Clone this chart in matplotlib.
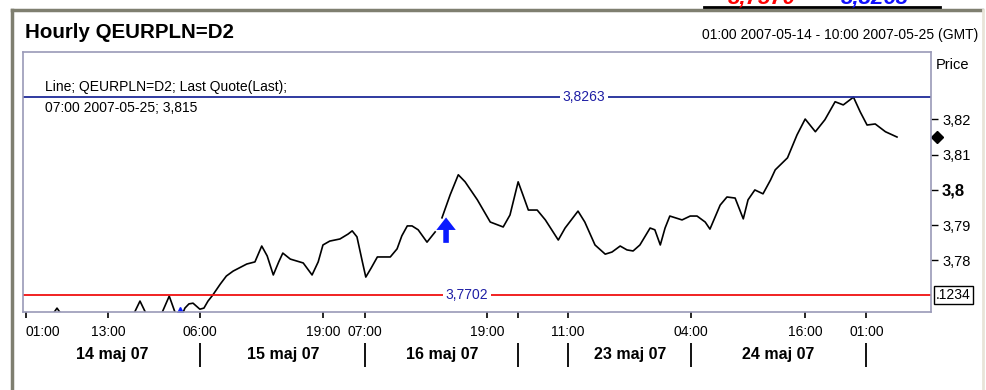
import numpy as np
import matplotlib.pyplot as plt
from matplotlib.transforms import blended_transform_factory

plt.rcParams['font.family'] = ['Liberation Sans', 'DejaVu Sans']

# hourly slots on the compressed time axis (weekend / missing days squeezed out)
slot = [0.0, 4.0, 5.0, 6.0, 11.3, 16.2, 17.2, 18.2, 20.1, 21.5, 22.5, 23.1, 23.8, 24.4,
        25.0, 26.0, 26.6, 27.2, 27.9, 29.0, 29.9, 30.9, 32.9, 34.1, 35.1, 35.9, 36.8,
        37.6, 38.2, 39.3, 41.2, 42.5, 43.4, 44.1, 45.1, 46.6, 47.8, 48.4, 49.1, 49.9,
        50.4, 51.2, 52.1, 54.0, 55.0, 55.7, 56.5, 57.2, 58.1, 59.4, 60.6, 61.1, 61.6,
        62.8, 64.0, 65.0, 66.8, 68.7, 70.6, 71.6, 72.8, 73.5, 74.3, 75.6, 76.8, 78.7,
        79.7, 81.6, 82.6, 84.1, 85.6, 86.6, 87.8, 88.8, 89.7, 90.7, 92.2, 92.9, 93.7,
        94.4, 95.1, 96.9, 98.1, 99.1, 100.3, 101.0, 102.5, 103.5, 104.7, 105.9, 106.6,
        107.6, 108.8, 109.9, 110.6, 112.4, 113.8, 115.0, 116.5, 117.9, 119.4, 120.6,
        122.1, 123.1, 124.1, 125.3, 126.8, 128.5]
price = [3.7631, 3.7637, 3.7665, 3.7637, 3.7626, 3.7645, 3.7685, 3.7645, 3.7637, 3.7699,
         3.7645, 3.7631, 3.7665, 3.7677, 3.7679, 3.7662, 3.7665, 3.7685, 3.7702, 3.7733,
         3.7756, 3.7770, 3.7790, 3.7796, 3.7841, 3.7813, 3.7759, 3.7796, 3.7821, 3.7804,
         3.7793, 3.7759, 3.7796, 3.7844, 3.7855, 3.7861, 3.7875, 3.7884, 3.7867, 3.7796,
         3.7753, 3.7779, 3.7810, 3.7810, 3.7833, 3.7870, 3.7898, 3.7898, 3.7887, 3.7852,
         3.7881, np.nan, 3.7921, 3.7986, 3.8043, 3.8023, 3.7972, 3.7909, 3.7895, 3.7929,
         3.8023, 3.7986, 3.7943, 3.7943, 3.7915, 3.7858, 3.7892, 3.7940, 3.7909, 3.7844,
         3.7818, 3.7824, 3.7841, 3.7830, 3.7827, 3.7844, 3.7892, 3.7887, 3.7844, 3.7892,
         3.7926, 3.7915, 3.7926, 3.7926, 3.7909, 3.7889, 3.7957, 3.7980, 3.7977, 3.7918,
         3.7972, 3.8000, 3.7989, 3.8028, 3.8057, 3.8091, 3.8156, 3.8201, 3.8165, 3.8199,
         3.8250, 3.8241, 3.8263, 3.8221, 3.8184, 3.8187, 3.8165, 3.8150]

period_high = 3.8263
period_low = 3.7702
last_price = 3.815
arrow_slot = 62.2

tick_slots = [0.4, 12.5, 26.0, 44.1, 50.3, 68.2, 72.8, 80.1, 98.2, 115.0, 124.0]
tick_labels = ['01:00', '13:00', '06:00', '19:00', '07:00', '19:00', '', '11:00', '04:00',
               '16:00', '01:00']
day_breaks = [26.0, 50.3, 72.8, 80.1, 98.2, 124.0]
day_centers = [13.1, 38.2, 61.6, 89.3, 111.0]
day_labels = ['14 maj 07', '15 maj 07', '16 maj 07', '23 maj 07', '24 maj 07']
price_ticks = [3.78, 3.79, 3.80, 3.81, 3.82]
price_labels = ['3,78', '3,79', '3,8', '3,81', '3,82']

fig = plt.figure(figsize=(9.87, 3.9), dpi=100)
ax = fig.add_axes([23 / 987, 78 / 390, 908 / 987, 260 / 390])

ax.plot(slot, price, color='black', lw=1.2, solid_joinstyle='round')

ax.axhline(period_high, color='#1f2b99', lw=1.3)
ax.axhline(period_low, color='#f01010', lw=1.3)
ax.text(82.5, period_high, '3,8263', color='#1f1fa5', fontsize=10, ha='center', va='center',
        bbox=dict(facecolor='white', edgecolor='none', pad=2))
ax.text(65.3, period_low, '3,7702', color='#1f1fa5', fontsize=10, ha='center', va='center',
        bbox=dict(facecolor='white', edgecolor='none', pad=2))

ax.annotate('', xy=(arrow_slot, 3.7922), xytext=(arrow_slot, 3.7850),
            arrowprops=dict(width=4, headwidth=14, headlength=9, color='#0a1aff', lw=0))
ax.plot([23.1], [3.7655], marker='^', color='#0a1aff', markersize=7, clip_on=True)

ax.set_xlim(0, 133.5)
ax.set_ylim(3.7654, 3.8391)

for s in ax.spines.values():
    s.set_color('#9a9ab8')
    s.set_linewidth(1.2)

ax.set_xticks(tick_slots)
ax.set_xticklabels(tick_labels, fontsize=10)
ax.tick_params(axis='x', length=4, width=1.2, pad=5, color='black')
ax.get_xticklabels()[0].set_horizontalalignment('left')
ax.get_xticklabels()[0].set_x(-0.4)

ax.yaxis.tick_right()
ax.set_yticks(price_ticks)
ax.set_yticklabels(price_labels, fontsize=10.5)
ax.tick_params(axis='y', length=5, width=1, pad=3)
for lab in ax.get_yticklabels():
    if lab.get_text() == '3,8':
        lab.set_fontweight('bold')
        lab.set_fontsize(12)

xtr = blended_transform_factory(ax.transData, ax.transAxes)
ax.vlines(day_breaks, -0.212, -0.119, transform=xtr, color='black', lw=1.3, clip_on=False)
for c, lab in zip(day_centers, day_labels):
    ax.text(c, -0.162, lab, transform=xtr, fontsize=11.5, fontweight='bold',
            ha='center', va='center')

# last value marker and box on the price scale
ax.plot([134.4], [last_price], marker='D', color='black', markersize=6, clip_on=False)
ax.text(134.2, period_low, '.1234', fontsize=10, ha='left', va='center',
        bbox=dict(facecolor='white', edgecolor='black', pad=1.5, lw=1))
ax.text(1.005, 0.95, 'Price', transform=ax.transAxes, fontsize=10.5, ha='left', va='center')

ax.text(0.024, 0.865, 'Line; QEURPLN=D2; Last Quote(Last);', transform=ax.transAxes,
        fontsize=10, ha='left', va='center')
ax.text(0.024, 0.785, '07:00 2007-05-25; 3,815', transform=ax.transAxes,
        fontsize=10, ha='left', va='center')

fig.text(25 / 987, 1 - 33 / 390, 'Hourly QEURPLN=D2', fontsize=14.8, fontweight='bold',
         ha='left', va='center')
fig.text(978 / 987, 1 - 35 / 390, '01:00 2007-05-14 - 10:00 2007-05-25 (GMT)', fontsize=10,
         ha='right', va='center')

# outer frame of the panel
fig.add_artist(plt.Line2D([12 / 987, 12 / 987], [0, 1 - 10 / 390], color='#7f7f70', lw=2.5))
fig.add_artist(plt.Line2D([12 / 987, 982 / 987], [1 - 10 / 390, 1 - 10 / 390],
                          color='#7f7f70', lw=2.5))
fig.add_artist(plt.Line2D([983 / 987, 983 / 987], [0, 1 - 10 / 390], color='#e8e4d8', lw=2))

# header strip cut off at the top of the picture (only the lower part shows)
fig.text(762 / 987, 1.005, '3,7570', color='red', fontsize=16, fontweight='bold',
         fontstyle='italic', ha='center', va='center')
fig.text(875 / 987, 1.005, '3,8263', color='#1010ff', fontsize=16, fontweight='bold',
         fontstyle='italic', ha='center', va='center')
fig.add_artist(plt.Line2D([704 / 987, 940 / 987], [1 - 7 / 390, 1 - 7 / 390],
                          color='black', lw=2))

fig.savefig('out.png', dpi=100)
